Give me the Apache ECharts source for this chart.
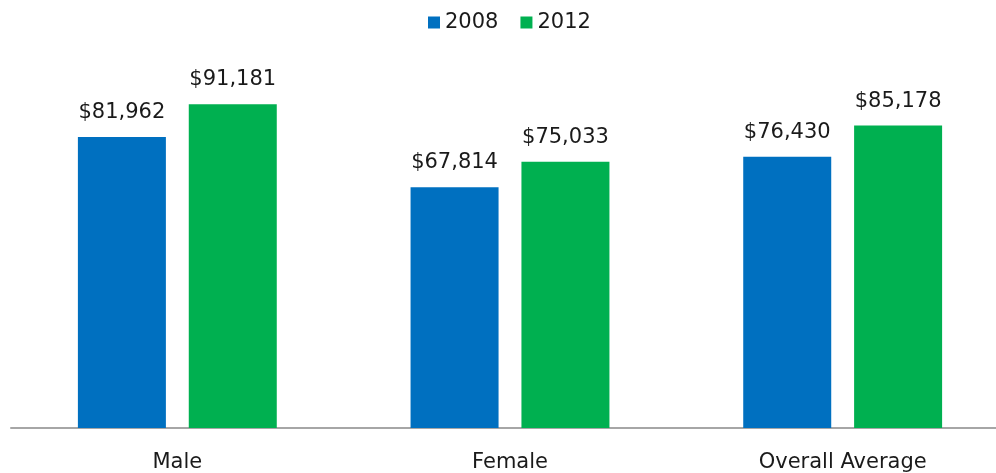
<!DOCTYPE html>
<html>
<head>
<meta charset="utf-8">
<script src="https://cdn.jsdelivr.net/npm/echarts@6/dist/echarts.min.js"></script>
<style>
  html, body { margin: 0; padding: 0; background: #fff; overflow: hidden; }
  #chart { width: 1012px; height: 473px; }
</style>
</head>
<body>
<div id="chart"></div>
<script>
// Average salary by gender, 2008 vs 2012
const categories = ['Male', 'Female', 'Overall Average'];
const years = ['2008', '2012'];
const values2008 = [81962, 67814, 76430];
const values2012 = [91181, 75033, 85178];

const FONT = '"DejaVu Sans", sans-serif';
const fmt = v => '$' + v.toLocaleString('en-US');

const chart = echarts.init(document.getElementById('chart'), null, { renderer: 'canvas' });

function barSeries(name, data, color) {
  return {
    name: name,
    type: 'bar',
    data: data,
    barWidth: 88,
    barGap: '26%',
    itemStyle: { color: color },
    label: {
      show: true,
      position: 'top',
      distance: 14,
      formatter: p => fmt(p.value),
      color: '#1a1a1a',
      fontFamily: FONT,
      fontSize: 21
    }
  };
}

chart.setOption({
  animation: false,
  legend: {
    data: years,
    top: 7,
    left: 423,
    itemWidth: 12,
    itemHeight: 12,
    itemGap: 22,
    icon: 'rect',
    textStyle: { fontFamily: FONT, fontSize: 21, color: '#1a1a1a' }
  },
  grid: { left: 11, width: 998, top: 73, height: 360, containLabel: false },
  xAxis: {
    type: 'category',
    data: categories,
    axisLine: { lineStyle: { color: '#a6a6a6', width: 2 } },
    axisTick: { show: false },
    axisLabel: { margin: 24, fontFamily: FONT, fontSize: 21, color: '#1a1a1a' }
  },
  yAxis: {
    type: 'value',
    min: 0,
    max: 100000,
    show: false,
    splitLine: { show: false }
  },
  series: [
    barSeries(years[0], values2008, '#0070c0'),
    barSeries(years[1], values2012, '#00b050')
  ]
});
</script>
</body>
</html>
